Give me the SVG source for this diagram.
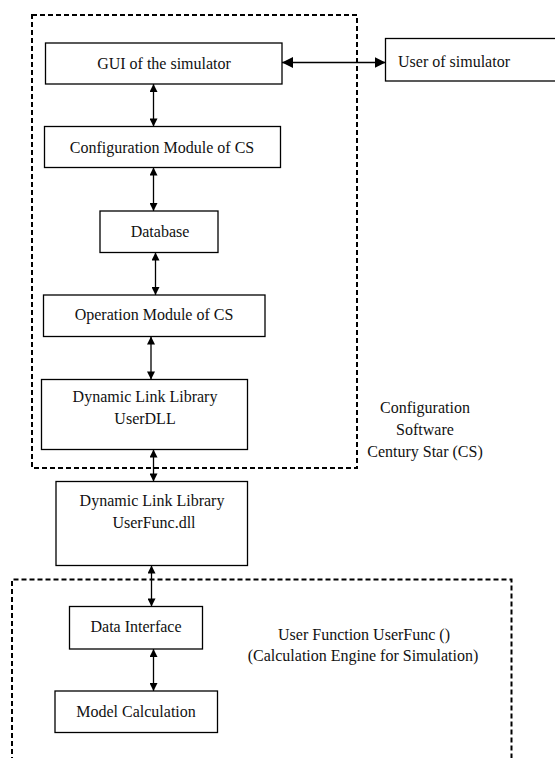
<svg xmlns="http://www.w3.org/2000/svg" width="555" height="758" viewBox="0 0 555 758">
<style>
.box{fill:#fff;stroke:#000;stroke-width:1.3}
.dash{fill:none;stroke:#000;stroke-width:2;stroke-dasharray:5 3}
.t{font-size:16px;fill:#111;text-anchor:middle;dominant-baseline:central}
.c{stroke:#000;stroke-width:1.3;fill:none;marker-start:url(#a);marker-end:url(#a)}
</style>
<defs>
<marker id="a" viewBox="0 0 10 10" refX="10" refY="5" markerWidth="10" markerHeight="8" markerUnits="userSpaceOnUse" orient="auto-start-reverse"><path d="M0,0 L10,5 L0,10 Z" fill="#000"/></marker>
<marker id="b" viewBox="0 0 10 10" refX="10" refY="5" markerWidth="11" markerHeight="11" markerUnits="userSpaceOnUse" orient="auto-start-reverse"><path d="M0,0 L10,5 L0,10 Z" fill="#000"/></marker>
</defs>
<g font-family="'Liberation Serif', 'DejaVu Serif', serif">
<g id="cs-group">
<rect class="dash" x="32" y="15" width="325" height="453"/>
<text class="t" x="425" y="407">Configuration</text>
<text class="t" x="425" y="429">Software</text>
<text class="t" x="425" y="451">Century Star (CS)</text>
</g>
<g id="uf-group">
<path class="dash" d="M12,770 V579.5 H511.5 V770"/>
<text class="t" x="364" y="634">User Function UserFunc ()</text>
<text class="t" x="363" y="655">(Calculation Engine for Simulation)</text>
</g>
<g id="gui"><rect class="box" x="45.5" y="43" width="236.5" height="41"/><text class="t" x="164" y="63">GUI of the simulator</text></g>
<g id="user"><rect class="box" x="385.5" y="38.5" width="175" height="42.5"/><text class="t" x="398" y="61" style="text-anchor:start">User of simulator</text></g>
<g id="config"><rect class="box" x="44.5" y="126.5" width="236" height="41"/><text class="t" x="162" y="147">Configuration Module of CS</text></g>
<g id="database"><rect class="box" x="100" y="211" width="118" height="41.5"/><text class="t" x="160" y="231">Database</text></g>
<g id="operation"><rect class="box" x="43.5" y="295" width="221.5" height="41.5"/><text class="t" x="154" y="314">Operation Module of CS</text></g>
<g id="userdll"><rect class="box" x="41.5" y="379.5" width="206" height="70"/><text class="t" x="145" y="396">Dynamic Link Library</text><text class="t" x="145" y="418">UserDLL</text></g>
<g id="userfunc"><rect class="box" x="56" y="481.5" width="191.5" height="84"/><text class="t" x="152" y="500">Dynamic Link Library</text><text class="t" x="154" y="522">UserFunc.dll</text></g>
<g id="datainterface"><rect class="box" x="69.5" y="606.5" width="133" height="42.5"/><text class="t" x="136" y="626">Data Interface</text></g>
<g id="model"><rect class="box" x="55" y="691" width="162.5" height="41.5"/><text class="t" x="136" y="711">Model Calculation</text></g>
</g>
<g id="connectors">
<line class="c" x1="282" y1="62.5" x2="385.5" y2="62.5" style="marker-start:url(#b);marker-end:url(#b)"/>
<line class="c" x1="153.5" y1="84" x2="153.5" y2="126.5"/>
<line class="c" x1="153.5" y1="167.5" x2="153.5" y2="211"/>
<line class="c" x1="155.5" y1="252.5" x2="155.5" y2="295"/>
<line class="c" x1="151" y1="336.5" x2="151" y2="379.5"/>
<line class="c" x1="153.5" y1="449.5" x2="153.5" y2="481.5"/>
<line class="c" x1="151.5" y1="565.5" x2="151.5" y2="606.5"/>
<line class="c" x1="153.5" y1="649" x2="153.5" y2="691"/>
</g>
</svg>
